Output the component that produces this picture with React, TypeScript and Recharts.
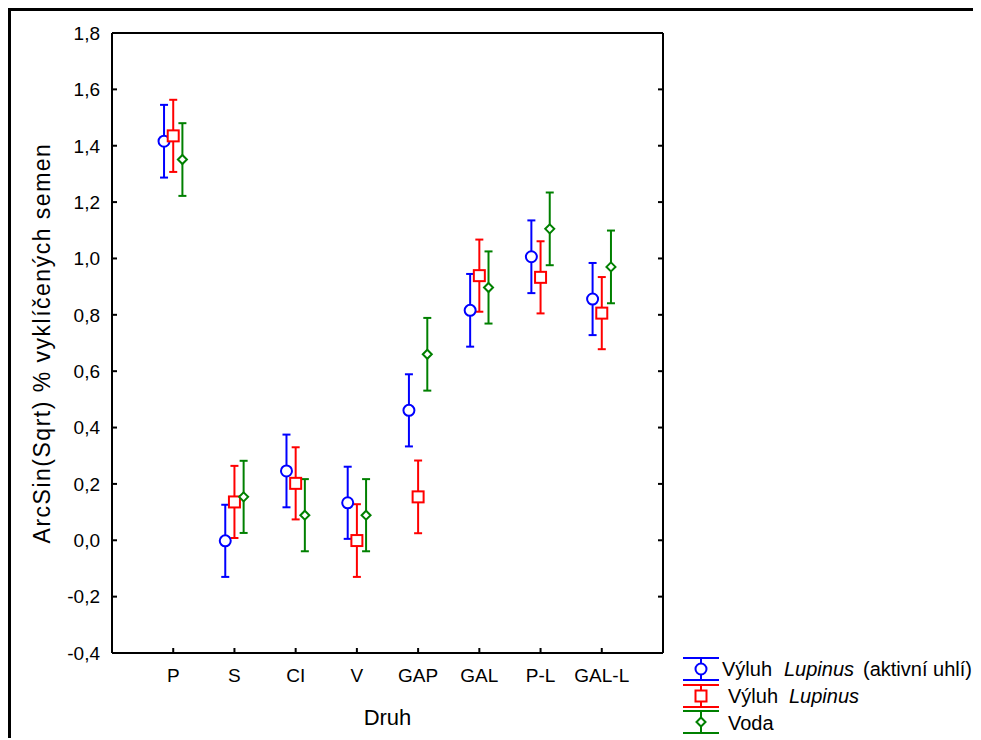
import React from 'react';
import { ComposedChart, Scatter, ErrorBar, XAxis, YAxis, Legend } from 'recharts';

const categories = ['P', 'S', 'CI', 'V', 'GAP', 'GAL', 'P-L', 'GAL-L'];
const yTicks = [-0.4, -0.2, 0, 0.2, 0.4, 0.6, 0.8, 1.0, 1.2, 1.4, 1.6, 1.8];
const xTicks = [1, 2, 3, 4, 5, 6, 7, 8];

// Výluh Lupinus (aktivní uhlí)
const uhliMean = [1.416, -0.002, 0.246, 0.133, 0.461, 0.816, 1.006, 0.856];
const uhliErr = [0.129, 0.128, 0.129, 0.128, 0.128, 0.129, 0.129, 0.128];
// Výluh Lupinus
const lupinusMean = [1.435, 0.136, 0.202, -0.001, 0.154, 0.939, 0.933, 0.806];
const lupinusErr = [0.128, 0.128, 0.128, 0.129, 0.129, 0.128, 0.128, 0.128];
// Voda
const vodaMean = [1.351, 0.154, 0.089, 0.089, 0.66, 0.897, 1.105, 0.97];
const vodaErr = [0.129, 0.128, 0.128, 0.128, 0.129, 0.128, 0.129, 0.129];

const BLUE = '#0000FF';
const RED = '#FF0000';
const GREEN = '#008000';
const FONT = '"Liberation Sans", Arial, sans-serif';
const TICK_IN = 5; // inward tick length
const LEFT_GAP = 12;
const BOTTOM_GAP = 15;

// small horizontal shift so the three groups sit side by side
const toPoints = (means: number[], errs: number[], shift: number) =>
  means.map((m, i) => ({ x: i + 1 + shift, y: m, err: errs[i] }));

const uhliData = toPoints(uhliMean, uhliErr, -0.15);
const lupinusData = toPoints(lupinusMean, lupinusErr, 0);
const vodaData = toPoints(vodaMean, vodaErr, 0.15);

const CircleMark = (p: any) => (
  <circle cx={p.cx} cy={p.cy} r={5.5} fill="#fff" stroke={BLUE} strokeWidth={2} />
);
const SquareMark = (p: any) => (
  <rect x={p.cx - 5.5} y={p.cy - 5.5} width={11} height={11} fill="#fff" stroke={RED} strokeWidth={2} />
);
const DiamondMark = (p: any) => (
  <polygon
    points={`${p.cx},${p.cy - 4.5} ${p.cx + 4.5},${p.cy} ${p.cx},${p.cy + 4.5} ${p.cx - 4.5},${p.cy}`}
    fill="#fff"
    stroke={GREEN}
    strokeWidth={2}
  />
);

const fmt = (v: number) => v.toFixed(1).replace('.', ',');

// axis ticks point into the plot, labels stay outside
const LeftTick = (p: any) => (
  <g>
    <line x1={p.x + LEFT_GAP} x2={p.x + LEFT_GAP + TICK_IN} y1={p.y} y2={p.y} stroke="#000" strokeWidth={2} />
    <text x={p.x} y={p.y} dy="0.36em" textAnchor="end" fill="#000" fontSize={19} fontFamily={FONT}>
      {fmt(p.payload.value)}
    </text>
  </g>
);
const BottomTick = (p: any) => (
  <g>
    <line x1={p.x} x2={p.x} y1={p.y - BOTTOM_GAP} y2={p.y - BOTTOM_GAP - TICK_IN} stroke="#000" strokeWidth={2} />
    <text x={p.x} y={p.y} dy="0.72em" textAnchor="middle" fill="#000" fontSize={19} fontFamily={FONT}>
      {categories[p.payload.value - 1]}
    </text>
  </g>
);
const TopTick = (p: any) => (
  <line x1={p.x} x2={p.x} y1={p.y} y2={p.y + TICK_IN} stroke="#000" strokeWidth={2} />
);
const RightTick = (p: any) => (
  <line x1={p.x} x2={p.x - TICK_IN} y1={p.y} y2={p.y} stroke="#000" strokeWidth={2} />
);

const LegendIcon = ({ y, color, kind }: { y: number; color: string; kind: string }) => {
  const cx = 26;
  const cy = y + 11;
  return (
    <g>
      <line x1={8} x2={44} y1={y} y2={y} stroke={color} strokeWidth={2} />
      <line x1={8} x2={44} y1={y + 22} y2={y + 22} stroke={color} strokeWidth={2} />
      <line x1={cx} x2={cx} y1={y} y2={y + 22} stroke={color} strokeWidth={2} />
      {kind === 'circle' && <CircleMark cx={cx} cy={cy} />}
      {kind === 'square' && <SquareMark cx={cx} cy={cy} />}
      {kind === 'diamond' && <DiamondMark cx={cx} cy={cy} />}
    </g>
  );
};

const renderLegend = () => (
  <svg width={306} height={90} style={{ fontFamily: FONT, fontSize: 20 }}>
    <LegendIcon y={8} color={BLUE} kind="circle" />
    <LegendIcon y={35} color={RED} kind="square" />
    <LegendIcon y={61} color={GREEN} kind="diamond" />
    <text y={26} fill="#000">
      <tspan x={47}>Výluh</tspan>
      <tspan x={109} fontStyle="italic">Lupinus</tspan>
      <tspan x={188}>(aktivní uhlí)</tspan>
    </text>
    <text y={53} fill="#000">
      <tspan x={53}>Výluh</tspan>
      <tspan x={114} fontStyle="italic">Lupinus</tspan>
    </text>
    <text y={80} fill="#000">
      <tspan x={53}>Voda</tspan>
    </text>
  </svg>
);

const frameLine = { stroke: '#000', strokeWidth: 2 };

export default function App() {
  return (
    <div style={{ position: 'relative', width: 973, height: 730, fontFamily: FONT }}>
      <style>{'html,body{overflow:hidden}'}</style>
      <ComposedChart
        width={973}
        height={730}
        margin={{ top: 24, right: 317, bottom: 0, left: 0 }}
      >
        <XAxis
          xAxisId="main"
          type="number"
          dataKey="x"
          domain={[0, 9]}
          allowDataOverflow
          ticks={xTicks}
          interval={0}
          tick={BottomTick}
          tickLine={false}
          tickSize={0}
          tickMargin={BOTTOM_GAP}
          height={85}
          axisLine={frameLine}
          label={{ value: 'Druh', position: 'center', dy: 22, style: { fill: '#000', fontSize: 22, fontFamily: FONT } }}
        />
        <XAxis
          xAxisId="top"
          orientation="top"
          type="number"
          domain={[0, 9]}
          allowDataOverflow
          ticks={xTicks}
          interval={0}
          tick={TopTick}
          tickLine={false}
          tickSize={0}
          tickMargin={0}
          height={1}
          axisLine={frameLine}
        />
        <YAxis
          yAxisId="main"
          type="number"
          domain={[-0.4, 1.8]}
          allowDataOverflow
          ticks={yTicks}
          interval={0}
          tick={LeftTick}
          tickLine={false}
          tickSize={0}
          tickMargin={LEFT_GAP}
          width={104}
          axisLine={frameLine}
          label={{
            value: 'ArcSin(Sqrt) % vyklíčených semen',
            angle: -90,
            position: 'center',
            dx: -18,
            style: { fill: '#000', fontSize: 23, letterSpacing: 1.5, fontFamily: FONT, textAnchor: 'middle' },
          }}
        />
        <YAxis
          yAxisId="right"
          orientation="right"
          type="number"
          domain={[-0.4, 1.8]}
          allowDataOverflow
          ticks={yTicks}
          interval={0}
          tick={RightTick}
          tickLine={false}
          tickSize={0}
          tickMargin={0}
          width={1}
          axisLine={frameLine}
        />
        <Legend
          layout="vertical"
          align="center"
          verticalAlign="middle"
          content={renderLegend}
          wrapperStyle={{ left: 667, top: 642, width: 306, height: 90 }}
        />
        <Scatter
          name="Výluh Lupinus (aktivní uhlí)"
          data={uhliData}
          dataKey="y"
          xAxisId="main"
          yAxisId="main"
          shape={CircleMark}
          isAnimationActive={false}
        >
          <ErrorBar dataKey="err" direction="y" width={4} stroke={BLUE} strokeWidth={2} isAnimationActive={false} />
        </Scatter>
        <Scatter
          name="Výluh Lupinus"
          data={lupinusData}
          dataKey="y"
          xAxisId="main"
          yAxisId="main"
          shape={SquareMark}
          isAnimationActive={false}
        >
          <ErrorBar dataKey="err" direction="y" width={4} stroke={RED} strokeWidth={2} isAnimationActive={false} />
        </Scatter>
        <Scatter
          name="Voda"
          data={vodaData}
          dataKey="y"
          xAxisId="main"
          yAxisId="main"
          shape={DiamondMark}
          isAnimationActive={false}
        >
          <ErrorBar dataKey="err" direction="y" width={4} stroke={GREEN} strokeWidth={2} isAnimationActive={false} />
        </Scatter>
      </ComposedChart>
      <div
        style={{
          position: 'absolute',
          left: 0,
          top: 0,
          right: -20,
          bottom: -20,
          borderTop: '3px solid #000',
          borderLeft: '3px solid #000',
          pointerEvents: 'none',
        }}
      />
    </div>
  );
}
